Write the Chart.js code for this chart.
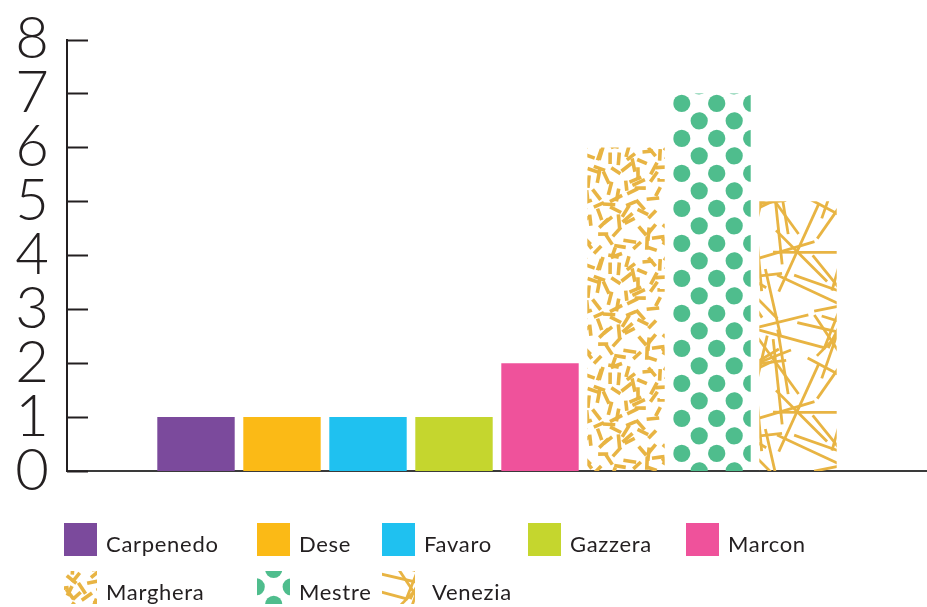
<!DOCTYPE html>
<html>
<head>
<meta charset="utf-8">
<script src="https://cdn.jsdelivr.net/npm/chart.js@4"></script>
<style>
  body { margin: 0; background: #fff; }
  #wrap { position: relative; width: 927px; height: 607px; overflow: hidden; }
  #legend {
    position: absolute; left: 64px; top: 523px;
    display: grid; grid-template-columns: 193px 125px 146px 158px auto;
    row-gap: 15px;
    font-family: "Lato", sans-serif; font-weight: 400; font-size: 22px; color: #231f20;
    letter-spacing: 0.7px;
  }
  .item { display: flex; align-items: center; height: 33px; }
  .item canvas { width: 33px; height: 33px; flex: none; }
  .item span { margin-left: 9px; line-height: 33px; transform: translateY(4px); white-space: nowrap; }
  .item:nth-child(8) span { margin-left: 17px; }
</style>
</head>
<body>
<div id="wrap">
  <canvas id="myChart" width="927" height="607"></canvas>
  <div id="legend"></div>
</div>
<script>
const districts = ["Carpenedo", "Dese", "Favaro", "Gazzera", "Marcon", "Marghera", "Mestre", "Venezia"];
const counts = [1, 1, 1, 1, 2, 6, 7, 5];
const fills = ["#7b4a9c", "#fbba16", "#1fc1f0", "#c5d62e", "#ef529b", "dashes", "dots", "lines"];
const yMin = 0;
const yMax = 8;
const yStep = 1;

const gold = "#e8b443";
const green = "#4fbd8d";

// seeded generator, only used for the texture of the pattern fills
function seeded(a) {
  return function () {
    a |= 0; a = (a + 0x6d2b79f5) | 0;
    let t = Math.imul(a ^ (a >>> 15), 1 | a);
    t = (t + Math.imul(t ^ (t >>> 7), 61 | t)) ^ t;
    return ((t ^ (t >>> 14)) >>> 0) / 4294967296;
  };
}

function strokeWrapped(g, size, x, y, ex, ey) {
  for (let dx = -size; dx <= size; dx += size) {
    for (let dy = -size; dy <= size; dy += size) {
      g.beginPath();
      g.moveTo(x + dx - ex, y + dy - ey);
      g.lineTo(x + dx + ex, y + dy + ey);
      g.stroke();
    }
  }
}

function makeTile(kind) {
  const c = document.createElement("canvas");
  const g = c.getContext("2d");
  if (kind === "dots") {
    c.width = 35; c.height = 35;
    g.fillStyle = green;
    const pts = [[16.7, 33.3], [34.2, 15.8]];
    pts.forEach(function (p) {
      for (let dx = -35; dx <= 35; dx += 35) {
        for (let dy = -35; dy <= 35; dy += 35) {
          g.beginPath();
          g.arc(p[0] + dx, p[1] + dy, 8.6, 0, Math.PI * 2);
          g.fill();
        }
      }
    });
  } else if (kind === "dashes") {
    const size = 110, cell = 11;
    c.width = size; c.height = size;
    g.strokeStyle = gold; g.lineWidth = 3.6;
    const r = seeded(5);
    for (let cy = 0; cy < size; cy += cell) {
      for (let cx = 0; cx < size; cx += cell) {
        const x = cx + r() * cell, y = cy + r() * cell;
        const a = r() * Math.PI, len = 10 + r() * 4;
        strokeWrapped(g, size, x, y, Math.cos(a) * len / 2, Math.sin(a) * len / 2);
      }
    }
  } else {
    const size = 160;
    c.width = size; c.height = size;
    g.strokeStyle = gold; g.lineWidth = 2.8;
    const r = seeded(29);
    for (let i = 0; i < 38; i++) {
      const x = r() * size, y = r() * size, a = r() * Math.PI, len = 50 + r() * 80;
      strokeWrapped(g, size, x, y, Math.cos(a) * len / 2, Math.sin(a) * len / 2);
    }
  }
  return c;
}

function fillFor(ctx, f) {
  if (f.charAt(0) === "#") return f;
  return ctx.createPattern(makeTile(f), "repeat");
}

// tick marks pointing into the plot, as in the original
const innerTicks = {
  id: "innerTicks",
  afterDraw(chart) {
    const y = chart.scales.y;
    const c = chart.ctx;
    c.save();
    c.strokeStyle = "#231f20";
    c.lineWidth = 2;
    y.ticks.forEach(function (t) {
      const py = Math.round(y.getPixelForValue(t.value)) + 0.5;
      c.beginPath();
      c.moveTo(y.right, py);
      c.lineTo(y.right + 21, py);
      c.stroke();
    });
    c.restore();
  },
};

const ctx = document.getElementById("myChart").getContext("2d");
const myChart = new Chart(ctx, {
  type: "bar",
  data: {
    labels: [""],
    datasets: districts.map(function (name, i) {
      return {
        label: name,
        data: [counts[i]],
        backgroundColor: fillFor(ctx, fills[i]),
        borderWidth: 0,
      };
    }),
  },
  options: {
    responsive: false,
    animation: false,
    layout: { padding: { top: 39.5, bottom: 136, left: 0, right: 0 } },
    scales: {
      x: {
        grid: { display: false },
        ticks: { display: false },
        border: { display: true, color: "#3a3a3a", width: 2 },
        afterFit: function (s) { s.height = 0; },
      },
      y: {
        min: yMin,
        max: yMax,
        grid: { display: false },
        border: { display: true, color: "#231f20", width: 2 },
        ticks: {
          stepSize: yStep,
          autoSkip: false,
          padding: 10,
          color: "#231f20",
          font: { family: "Lato", weight: "300", size: 58, lineHeight: 0.5 },
        },
        afterFit: function (s) { s.width = 67; },
      },
    },
    plugins: {
      legend: { display: false },
      tooltip: { enabled: false },
    },
  },
  plugins: [innerTicks],
});

// legend built from the chart's datasets
const legendBox = document.getElementById("legend");
myChart.data.datasets.forEach(function (ds, i) {
  const item = document.createElement("div");
  item.className = "item";
  const sw = document.createElement("canvas");
  sw.width = 33; sw.height = 33;
  const g = sw.getContext("2d");
  g.fillStyle = fillFor(g, fills[i]);
  g.fillRect(0, 0, 33, 33);
  const label = document.createElement("span");
  label.textContent = ds.label;
  item.appendChild(sw);
  item.appendChild(label);
  legendBox.appendChild(item);
});
</script>
</body>
</html>
